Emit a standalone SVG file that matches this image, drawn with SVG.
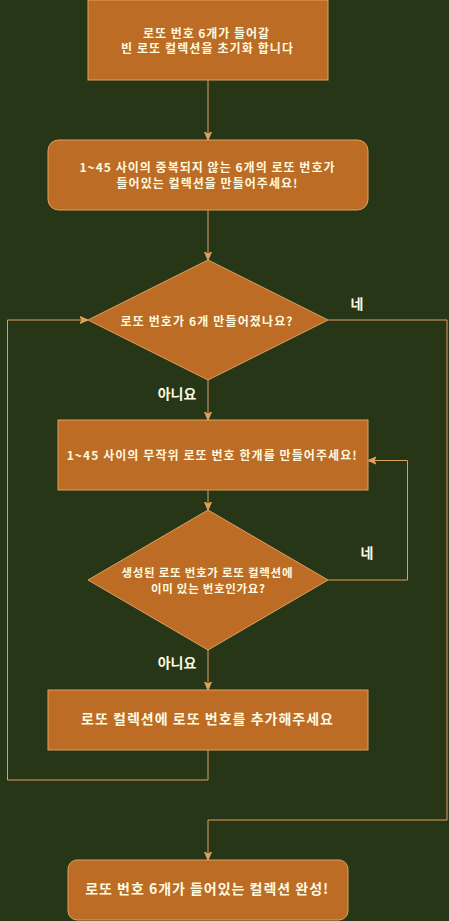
<svg xmlns="http://www.w3.org/2000/svg" width="449" height="921" viewBox="0 0 449 921">
<style>
.shape{fill:#BC6C25;stroke:#DDA15E;stroke-width:1}
.t{fill:#FEFAE0;font-family:"Noto Sans CJK KR","Noto Sans",sans-serif;font-weight:bold;text-anchor:middle}
.s12{font-size:12px}
.s11{font-size:11.5px}
.s14{font-size:14px}
.edge{fill:none;stroke:#DDA15E;stroke-width:1}
</style>
<defs>
<marker id="arr" markerUnits="userSpaceOnUse" markerWidth="10" markerHeight="10" viewBox="0 0 10 10" refX="8" refY="4" orient="auto">
<path d="M0,0.5 L8,4 L0,7.5 L2,4 Z" fill="#DDA15E" stroke="#DDA15E" stroke-width="1"/>
</marker>
</defs>
<rect width="449" height="921" fill="#283618"/>
<g id="connectors">
<path class="edge" d="M208,80 V140" marker-end="url(#arr)"/>
<path class="edge" d="M208,210 V260" marker-end="url(#arr)"/>
<path class="edge" d="M208,380 V420" marker-end="url(#arr)"/>
<path class="edge" d="M208,490 V510" marker-end="url(#arr)"/>
<path class="edge" d="M208,650 V690" marker-end="url(#arr)"/>
<path class="edge" d="M328,320 H447 V820 H208 V860" marker-end="url(#arr)"/>
<path class="edge" d="M328,580 H407.5 V460.5 H368" marker-end="url(#arr)"/>
<path class="edge" d="M208,750 V780 H7.5 V320 H88" marker-end="url(#arr)"/>
<text class="t s14" x="357" y="309">네</text>
<text class="t s14" x="177" y="399">아니요</text>
<text class="t s14" x="367" y="558">네</text>
<text class="t s14" x="177" y="668">아니요</text>
</g>
<g id="init">
<rect class="shape" x="88" y="0" width="240" height="80"/>
<text class="t s12" x="206" y="37.5" textLength="126" lengthAdjust="spacing">로또 번호 6개가 들어갈</text>
<text class="t s12" x="207" y="53" textLength="172" lengthAdjust="spacing">빈 로또 컬렉션을 초기화 합니다</text>
</g>
<g id="goal">
<rect class="shape" x="48" y="140" width="320" height="70" rx="10.5" ry="10.5"/>
<text class="t s12" x="207" y="172" textLength="255" lengthAdjust="spacing">1~45 사이의 중복되지 않는 6개의 로또 번호가</text>
<text class="t s12" x="207" y="187.5" textLength="181" lengthAdjust="spacing">들어있는 컬렉션을 만들어주세요!</text>
</g>
<g id="check6">
<path class="shape" d="M208,260 L328,320 L208,380 L88,320 Z"/>
<text class="t s12" x="206.5" y="325.5" textLength="172" lengthAdjust="spacing">로또 번호가 6개 만들어졌나요?</text>
</g>
<g id="random">
<rect class="shape" x="58" y="420" width="310" height="70"/>
<text class="t s12" x="211.7" y="459.5" textLength="290" lengthAdjust="spacing">1~45 사이의 무작위 로또 번호 한개를 만들어주세요!</text>
</g>
<g id="checkdup">
<path class="shape" d="M208,510 L328,580 L208,650 L88,580 Z"/>
<text class="t s11" x="207" y="577" textLength="171" lengthAdjust="spacing">생성된 로또 번호가 로또 컬렉션에</text>
<text class="t s11" x="208" y="592.5" textLength="114" lengthAdjust="spacing">이미 있는 번호인가요?</text>
</g>
<g id="add">
<rect class="shape" x="48" y="690" width="320" height="60"/>
<text class="t s14" x="207" y="724" textLength="252" lengthAdjust="spacing">로또 컬렉션에 로또 번호를 추가해주세요</text>
</g>
<g id="done">
<rect class="shape" x="68" y="860" width="280" height="60" rx="9" ry="9"/>
<text class="t s14" x="206.7" y="894" textLength="243" lengthAdjust="spacing">로또 번호 6개가 들어있는 컬렉션 완성!</text>
</g>
</svg>
